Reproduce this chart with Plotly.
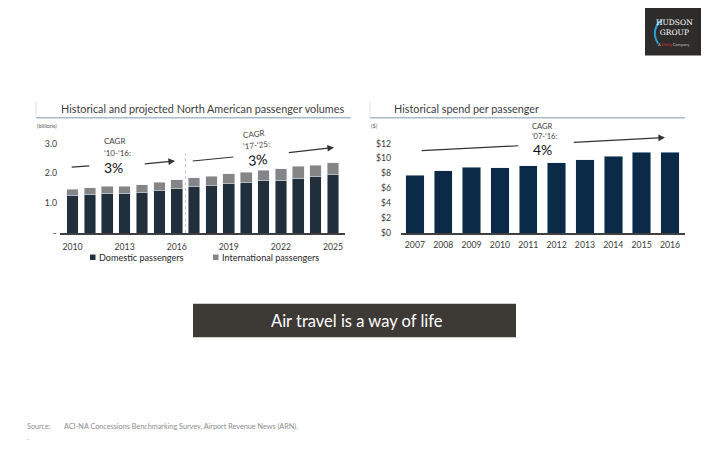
import plotly.graph_objects as go

# ---------------- data ----------------
vol_years = list(range(2010, 2026))
domestic = [1.27, 1.30, 1.34, 1.34, 1.36, 1.43, 1.49, 1.55, 1.59, 1.65, 1.70, 1.75, 1.77, 1.84, 1.88, 1.95]
total = [1.47, 1.52, 1.57, 1.57, 1.62, 1.71, 1.78, 1.86, 1.91, 1.98, 2.03, 2.10, 2.16, 2.24, 2.28, 2.35]
international = [round(t - d, 2) for t, d in zip(total, domestic)]
vol_tick_years = [2010, 2013, 2016, 2019, 2022, 2025]
vol_ticks = [0, 1, 2, 3]
vol_tick_text = ["–", "1.0", "2.0", "3.0"]

spend_years = list(range(2007, 2017))
spend = [7.76, 8.38, 8.82, 8.73, 9.04, 9.44, 9.79, 10.32, 10.81, 10.81]
spend_ticks = [0, 2, 4, 6, 8, 10, 12]
spend_tick_text = ["$0", "$2", "$4", "$6", "$8", "$10", "$12"]

W, H = 720, 450
OFF = 8  # page body margin offset
FONT = "Lato"
TXT = "#404040"
DOM_C = "#212e3c"
INT_C = "#858585"
SPEND_C = "#0b2a47"
TICK = dict(size=8.7, color="#3a3a3a")


def px(x):
    return (x - OFF) / W


def py(y):
    return 1 - (y - OFF) / H


fig = go.Figure()
fig.add_trace(go.Bar(x=vol_years, y=domestic, marker_color=DOM_C, width=0.67,
                     name="Domestic passengers", xaxis="x", yaxis="y"))
fig.add_trace(go.Bar(x=vol_years, y=international, marker_color=INT_C, width=0.67,
                     name="International passengers", xaxis="x", yaxis="y"))
fig.add_trace(go.Bar(x=spend_years, y=spend, marker_color=SPEND_C, width=0.65,
                     name="Spend", xaxis="x2", yaxis="y2"))

ybot = py(235.7)
ytop = py(130)
axis_common = dict(showgrid=False, zeroline=False, ticks="", fixedrange=True)
fig.update_layout(
    width=W, height=H, margin=dict(l=0, r=0, t=0, b=0),
    paper_bgcolor="white", plot_bgcolor="white",
    barmode="stack", showlegend=False,
    font=dict(family=FONT, color=TXT),
    xaxis=dict(domain=[px(60), px(345)], range=[2009.28, 2025.69], anchor="y",
               tickvals=vol_tick_years, ticktext=[str(v) for v in vol_tick_years],
               showline=True, linecolor="#404040", linewidth=1.5,
               tickfont=TICK, ticklabelstandoff=5, **axis_common),
    yaxis=dict(domain=[ybot, ytop], range=[0, (235.7 - 130) / 30.23], anchor="x",
               tickvals=vol_ticks, ticktext=vol_tick_text, showline=False,
               tickfont=TICK, ticklabelstandoff=2, **axis_common),
    xaxis2=dict(domain=[px(401), px(685)], range=[2006.51, 2016.53], anchor="y2",
                tickvals=spend_years, ticktext=[str(v) for v in spend_years],
                showline=True, linecolor="#404040", linewidth=1.5,
                tickfont=TICK, ticklabelstandoff=3, **axis_common),
    yaxis2=dict(domain=[ybot, ytop], range=[0, (235.7 - 130) / 7.558], anchor="x2",
                tickvals=spend_ticks, ticktext=spend_tick_text, showline=False,
                tickfont=TICK, ticklabelstandoff=9, **axis_common),
)

shapes = []
# title underlines and small vertical ticks
for x0, x1 in [(36, 350.7), (370, 685)]:
    shapes.append(dict(type="line", xref="paper", yref="paper", x0=px(x0), x1=px(x1),
                       y0=py(119), y1=py(119), line=dict(color="#a9bccd", width=1.3)))
    shapes.append(dict(type="line", xref="paper", yref="paper", x0=px(x0), x1=px(x0),
                       y0=py(102), y1=py(119), line=dict(color="#e3e3e3", width=1)))
# forecast divider
shapes.append(dict(type="line", xref="x", yref="y", x0=2016.5, x1=2016.5, y0=0, y1=2.67,
                   line=dict(color="#bdbdbd", width=1, dash="dot")))
# plain CAGR trend segments
for (x0, y0, x1, y1) in [(71.7, 169, 89.3, 167.7), (192.7, 162.7, 233.3, 158.7),
                         (421.7, 152.3, 518.3, 147.3)]:
    shapes.append(dict(type="line", xref="paper", yref="paper", x0=px(x0), y0=py(y0),
                       x1=px(x1), y1=py(y1), line=dict(color="#333333", width=1.2)))
# legend squares
shapes.append(dict(type="rect", xref="paper", yref="paper", x0=px(90), x1=px(95.5),
                   y0=py(262.8), y1=py(257.3), fillcolor=DOM_C, line=dict(width=0)))
shapes.append(dict(type="rect", xref="paper", yref="paper", x0=px(213), x1=px(218.5),
                   y0=py(262.8), y1=py(257.3), fillcolor=INT_C, line=dict(width=0)))
# banner
shapes.append(dict(type="rect", xref="paper", yref="paper", x0=px(193), x1=px(516),
                   y0=py(341), y1=py(307), fillcolor="#3d3935", line=dict(width=0)))
# logo box
shapes.append(dict(type="rect", xref="paper", yref="paper", x0=px(645), x1=px(701),
                   y0=py(56), y1=py(8), fillcolor="#2e2c2a", line=dict(width=0)))
shapes.append(dict(type="path", xref="paper", yref="paper",
                   path=f"M {px(658)},{py(44)} Q {px(650)},{py(30)} {px(662)},{py(20)}",
                   line=dict(color="#2a9fd6", width=2)))
fig.update_layout(shapes=shapes)

ann = []


def text(x, y, s, size, color=TXT, xanchor="left", angle=0, family=FONT):
    ann.append(dict(x=px(x), y=py(y), xref="paper", yref="paper", text=s, showarrow=False,
                    xanchor=xanchor, yanchor="middle", textangle=angle,
                    font=dict(size=size, color=color, family=family)))


def arrow(x0, y0, x1, y1):
    ann.append(dict(x=px(x1), y=py(y1), xref="paper", yref="paper",
                    ax=x0 - x1, ay=y0 - y1, axref="pixel", ayref="pixel",
                    text="", showarrow=True, arrowhead=2, arrowsize=1.1, arrowwidth=1.2,
                    arrowcolor="#333333"))


# titles
text(59, 109.5, "Historical and projected North American passenger volumes", 10.8)
text(392, 109.5, "Historical spend per passenger", 10.8)
text(35, 127.5, "(billions)", 5.5, color="#595959")
text(369, 127.5, "($)", 5.5, color="#595959")

# CAGR notes
text(102, 142.5, "CAGR", 8)
text(102, 154.3, "‘10-‘16:", 8)
text(102, 169.5, "3%", 14, color="#111111")
arrow(143.3, 165.7, 175, 162.7)

text(253, 135.5, "CAGR", 8, xanchor="center", angle=-6)
text(256, 146.5, "‘17-‘25:", 8, xanchor="center", angle=-6)
text(257, 160.7, "3%", 14, color="#111111", xanchor="center", angle=-6)
arrow(287.3, 154.3, 334, 149)

text(529.5, 127.5, "CAGR", 7.5)
text(530, 137.5, "‘07-‘16:", 7.5)
text(531, 151.5, "4%", 14, color="#111111")
arrow(572.3, 144, 665, 139)

# legend
text(97, 260.3, "Domestic passengers", 9.1, color="#262626")
text(220, 260.3, "International passengers", 9.1, color="#262626")

# banner
text(357, 324.3, "Air travel is a way of life", 16.5, color="white", xanchor="center")

# source
text(25, 431.3, "Source:", 7.25, color="#8c8c8c")
text(61.5, 431.3, "ACI-NA Concessions Benchmarking Survey, Airport Revenue News (ARN).", 7.25, color="#8c8c8c")
text(25, 442, ".", 7.25, color="#8c8c8c")

# logo
text(674, 28, "HUDSON<br>GROUP", 7.5, color="white", xanchor="center", family="DejaVu Serif")
text(674, 45, "A <span style='color:#e3262f'>Dufry</span> Company", 4, color="#bfbfbf",
     xanchor="center")

fig.update_layout(annotations=ann)
fig.write_html("out.html")
